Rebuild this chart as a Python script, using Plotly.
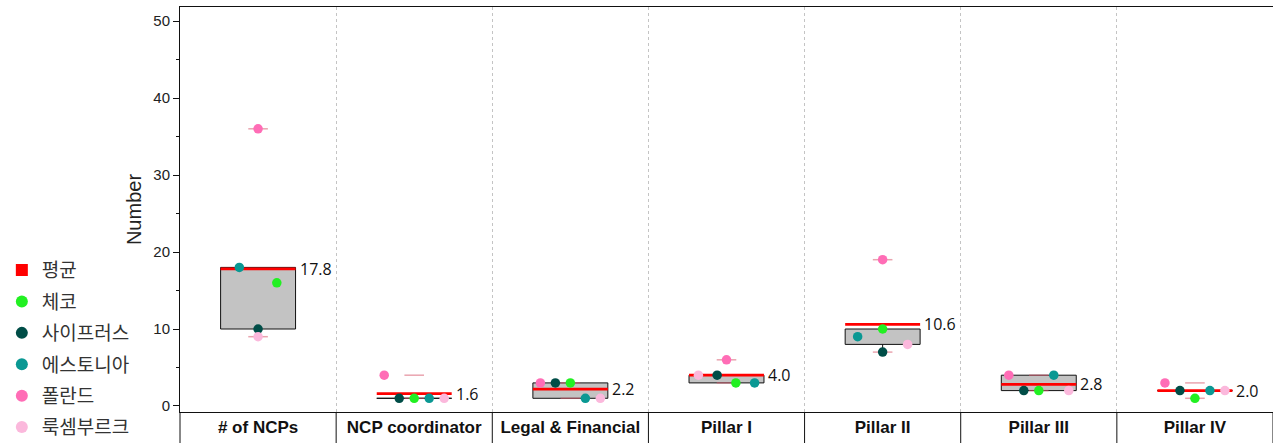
import numpy as np
import plotly.graph_objects as go

# ---------------- data ----------------
categories = ["# of NCPs", "NCP coordinator", "Legal & Financial", "Pillar I",
              "Pillar II", "Pillar III", "Pillar IV"]
countries = ["체코", "사이프러스", "에스토니아", "폴란드", "룩셈부르크"]
czech = [16, 1, 3, 3, 10, 2, 1]
cyprus = [10, 1, 3, 4, 7, 2, 2]
estonia = [18, 1, 1, 3, 9, 4, 2]
poland = [36, 4, 3, 6, 19, 4, 3]
luxembourg = [9, 1, 1, 4, 8, 2, 2]
mean_label = "평균"
y_tickvals = [0, 10, 20, 30, 40, 50]
y_title = "Number"

# ---------------- styles ----------------
series = [czech, cyprus, estonia, poland, luxembourg]
colors = ["#22f022", "#004d47", "#0a9893", "#ff6db6", "#fbb8dc"]
BOX_W = 0.48
BIN = 5
FONT = "Liberation Sans"
KFONT = "Noto Sans CJK KR"

n_cat = len(categories)
xs = np.arange(n_cat)
data = np.array(series, dtype=float)

q1 = np.percentile(data, 25, axis=0)
q3 = np.percentile(data, 75, axis=0)
means = data.mean(axis=0)
iqr = q3 - q1
lo_w, hi_w = [], []
for j in range(n_cat):
    col = data[:, j]
    lo_w.append(col[col >= q1[j] - 1.5 * iqr[j]].min())
    hi_w.append(col[col <= q3[j] + 1.5 * iqr[j]].max())
mins = data.min(axis=0)
maxs = data.max(axis=0)

# distribution offsets: points in the same value bin are spread across the box width
offsets = np.zeros_like(data)
for j in range(n_cat):
    bins = {}
    for i in range(len(series)):
        bins.setdefault(int(data[i, j] // BIN), []).append(i)
    for members in bins.values():
        n = len(members)
        slots = [0, -1, 1, -2, 2, -3, 3] if n % 2 else [0.5, -0.5, 1.5, -1.5, 2.5, -2.5]
        for k, i in enumerate(members):
            offsets[i, j] = slots[k] * BOX_W / n

fig = go.Figure()

# boxes
bx, by = [], []
for j in range(n_cat):
    l, r = xs[j] - BOX_W / 2, xs[j] + BOX_W / 2
    bx += [l, r, r, l, l, None]
    by += [q1[j], q1[j], q3[j], q3[j], q1[j], None]
fig.add_trace(go.Scatter(x=bx, y=by, mode="lines", fill="toself", fillcolor="#c3c3c3",
                         line=dict(color="#111111", width=1), showlegend=False, hoverinfo="skip"))

# whiskers
wx, wy = [], []
for j in range(n_cat):
    wx += [xs[j], xs[j], None, xs[j], xs[j], None]
    wy += [q3[j], hi_w[j], None, q1[j], lo_w[j], None]
fig.add_trace(go.Scatter(x=wx, y=wy, mode="lines", line=dict(color="#111111", width=1),
                         showlegend=False, hoverinfo="skip"))

# min / max dashes
fig.add_trace(go.Scatter(x=list(xs) + list(xs), y=list(mins) + list(maxs), mode="markers",
                         marker=dict(symbol="line-ew", size=14,
                                     line=dict(color="rgba(215,90,110,0.55)", width=1.5)),
                         showlegend=False, hoverinfo="skip"))

# mean lines
mx, my = [], []
for j in range(n_cat):
    mx += [xs[j] - BOX_W / 2, xs[j] + BOX_W / 2, None]
    my += [means[j], means[j], None]
fig.add_trace(go.Scatter(x=mx, y=my, mode="lines", line=dict(color="#ff0000", width=2.8),
                         showlegend=False, hoverinfo="skip"))

# legend entry for mean
fig.add_trace(go.Scatter(x=[None], y=[None], mode="markers", name=mean_label,
                         marker=dict(symbol="square", size=12, color="#ff0000"),
                         legendgroup="mean", legendrank=1))

# country points
for i, (name, vals) in enumerate(zip(countries, series)):
    fig.add_trace(go.Scatter(x=xs + offsets[i], y=vals, mode="markers", name=name,
                             marker=dict(size=9.5, color=colors[i], line=dict(width=0)),
                             legendgroup=name, legendrank=2 + i))

# mean value labels
for j in range(n_cat):
    fig.add_annotation(x=xs[j] + BOX_W / 2, y=means[j], text=f"{means[j]:.1f}",
                       xanchor="left", yanchor="middle", xshift=2, showarrow=False,
                       font=dict(family="Open Sans", size=16, color="#111111"))

# label band separators
shapes = []
for k in range(n_cat + 1):
    shapes.append(dict(type="line", xref="x domain", yref="paper", x0=k / n_cat, x1=k / n_cat,
                       y0=0, y1=-0.09, line=dict(color="#111111", width=1)))
fig.update_layout(shapes=shapes)

fig.update_layout(
    width=1273, height=443,
    margin=dict(l=180, r=0, t=7, b=31, autoexpand=False),
    paper_bgcolor="white", plot_bgcolor="white",
    showlegend=True,
    legend=dict(x=-0.163, xanchor="left", y=-0.0845, yanchor="bottom",
                font=dict(family=KFONT, size=19, color="#333333"),
                tracegroupgap=3.7, bgcolor="rgba(0,0,0,0)", itemsizing="constant"),
    xaxis=dict(range=[-0.5, n_cat - 0.5], tickmode="array", tickvals=list(xs),
               ticktext=[f"<b>{c}</b>" for c in categories], ticks="", showgrid=False,
               zeroline=False, showline=True, linecolor="#111111", linewidth=1, mirror=True,
               tickfont=dict(family=FONT, size=17, color="#111111"),
               minor=dict(tickmode="array", tickvals=[k + 0.5 for k in range(n_cat - 1)],
                          showgrid=True, griddash="dot", gridcolor="#c4c4c4", gridwidth=1,
                          ticks="")),
    yaxis=dict(range=[-0.78, 51.82], tickvals=y_tickvals, ticks="outside", ticklen=6,
               tickcolor="#111111", showgrid=False, zeroline=False, showline=True,
               linecolor="#111111", linewidth=1,
               tickfont=dict(family=FONT, size=15, color="#222222"),
               title=dict(text=y_title, font=dict(family=FONT, size=20, color="#222222"),
                          standoff=6),
               minor=dict(dtick=5, ticks="outside", ticklen=3, tickcolor="#111111")),
)

fig.write_html("out.html", config={"displayModeBar": False},
               post_script="document.body.style.margin='0';document.body.style.overflow='hidden';")
